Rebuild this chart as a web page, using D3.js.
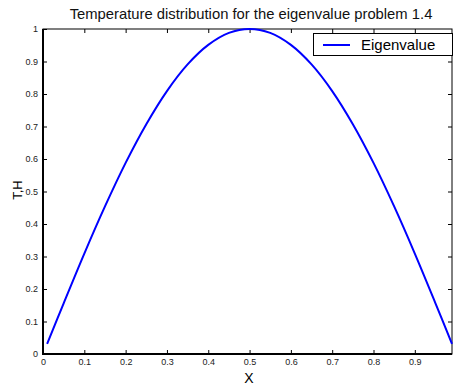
<!DOCTYPE html>
<html><head><meta charset="utf-8">
<script src="https://cdn.jsdelivr.net/npm/d3@7"></script>
<style>body{margin:0;background:#fff}svg{display:block}text{font-family:"Liberation Sans",Arial,sans-serif}</style>
</head><body>
<script>
const xValues = [0.01,0.05,0.10,0.15,0.20,0.25,0.30,0.35,0.40,0.45,0.50,0.55,0.60,0.65,0.70,0.75,0.80,0.85,0.90,0.95,0.99];
const tValues = [0.031,0.156,0.309,0.454,0.588,0.707,0.809,0.891,0.951,0.988,1.000,0.988,0.951,0.891,0.809,0.707,0.588,0.454,0.309,0.156,0.031];
const xTicks = [0,0.1,0.2,0.3,0.4,0.5,0.6,0.7,0.8,0.9];
const yTicks = [0,0.1,0.2,0.3,0.4,0.5,0.6,0.7,0.8,0.9,1];
const seriesName = "Eigenvalue";
const titleText = "Temperature distribution for the eigenvalue problem 1.4";

const W=453,H=387;
const L=43,R=452,T=29,B=354;
const svg=d3.select("body").append("svg").attr("width",W).attr("height",H);
const x=d3.scaleLinear().domain([0,0.99]).range([L,R]);
const y=d3.scaleLinear().domain([0,1]).range([B,T]);

// frame
svg.append("rect").attr("x",L).attr("y",T).attr("width",R-L).attr("height",B-T)
  .attr("fill","none").attr("stroke","#000").attr("stroke-width",1);
svg.append("line").attr("x1",L).attr("x2",L).attr("y1",T).attr("y2",B+1).attr("stroke","#000").attr("stroke-width",2);
svg.append("line").attr("x1",L-1).attr("x2",R).attr("y1",B).attr("y2",B).attr("stroke","#000").attr("stroke-width",2);

const ax=svg.append("g").attr("transform",`translate(0,${B})`)
  .call(d3.axisBottom(x).tickValues(xTicks).tickSize(-4).tickPadding(5).tickFormat(d3.format("")));
ax.select(".domain").remove();
const ax2=svg.append("g").attr("transform",`translate(0,${T})`)
  .call(d3.axisTop(x).tickValues(xTicks.slice(1)).tickSize(-4).tickFormat(""));
ax2.select(".domain").remove();
const ay=svg.append("g").attr("transform",`translate(${L},0)`)
  .call(d3.axisLeft(y).tickValues(yTicks).tickSize(-4).tickPadding(5).tickFormat(d3.format("")));
ay.select(".domain").remove();
const ay2=svg.append("g").attr("transform",`translate(${R},0)`)
  .call(d3.axisRight(y).tickValues(yTicks.slice(1,-1)).tickSize(-4).tickFormat(""));
ay2.select(".domain").remove();
svg.selectAll(".tick line").attr("stroke","#000");
svg.selectAll(".tick text").attr("font-size",9).attr("fill","#222").style("font-family","'Liberation Sans',Arial,sans-serif");

// curve
const data=xValues.map((v,i)=>[v,tValues[i]]);
svg.append("path").datum(data)
  .attr("d",d3.line().x(d=>x(d[0])).y(d=>y(d[1])).curve(d3.curveCatmullRom))
  .attr("fill","none").attr("stroke","#0000ff").attr("stroke-width",2);

// title & labels
svg.append("text").attr("x",251).attr("y",19).attr("text-anchor","middle").attr("font-size",14.8).attr("fill","#111").text(titleText);
svg.append("text").attr("x",249).attr("y",383).attr("text-anchor","middle").attr("font-size",14).text("X");
svg.append("text").attr("transform","translate(22,190) rotate(-90)").attr("text-anchor","middle").attr("font-size",13).text("T,H");

// legend
const lg=svg.append("g");
lg.append("rect").attr("x",313.5).attr("y",33.5).attr("width",139).attr("height",22).attr("fill","#fff").attr("stroke","#000");
lg.append("line").attr("x1",323).attr("x2",350).attr("y1",45).attr("y2",45).attr("stroke","#0000ff").attr("stroke-width",2);
lg.append("text").attr("x",361).attr("y",50).attr("font-size",15).text(seriesName);
</script>
</body></html>
